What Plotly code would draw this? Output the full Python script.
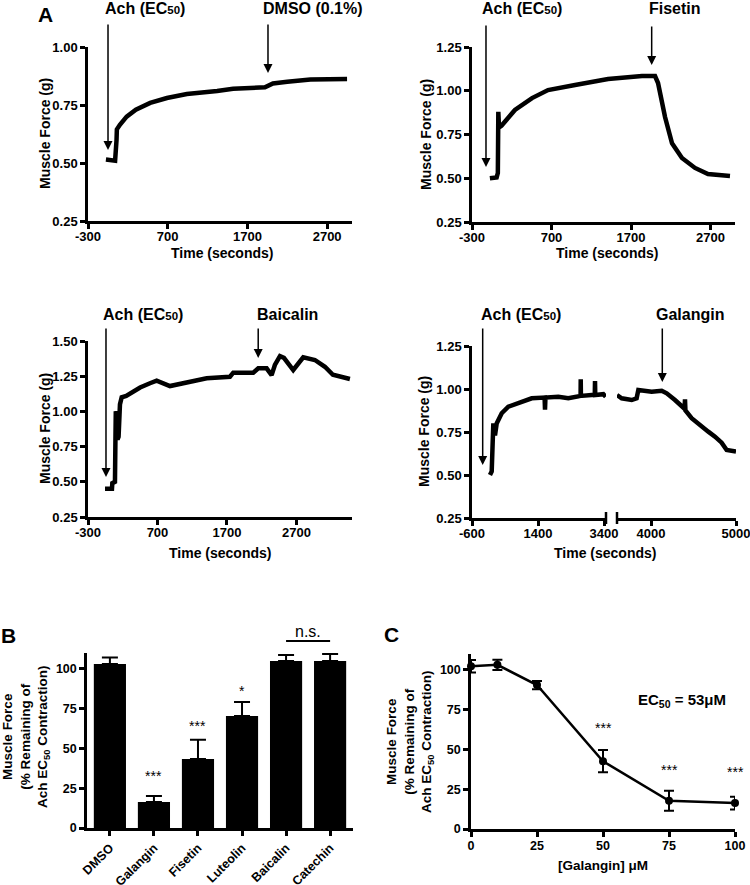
import plotly.graph_objects as go

W, H = 750, 885
FONT = "Liberation Sans"

# ---------------- Panel A data (time in s, force in g) ----------------
a1_time = [-75, 40, 58, 62, 100, 185, 300, 480, 690, 940, 1320, 1520, 1920, 2020, 2200, 2490, 2950]
a1_force = [0.515, 0.51, 0.60, 0.645, 0.665, 0.70, 0.73, 0.759, 0.78, 0.797, 0.81, 0.82, 0.826, 0.843, 0.85, 0.86, 0.862]

a2_time = [-75, 10, 25, 31, 40, 70, 240, 455, 656, 996, 1411, 1838, 2002, 2040, 2128, 2216, 2341, 2505, 2668, 2945]
a2_force = [0.50, 0.505, 0.53, 0.88, 0.79, 0.80, 0.89, 0.958, 1.004, 1.033, 1.067, 1.084, 1.084, 1.044, 0.85, 0.70, 0.616, 0.559, 0.524, 0.513]

a3_time = [-55, 45, 50, 88, 95, 100, 112, 125, 140, 160, 185, 250, 347, 450, 592, 688, 880, 1120, 1408, 1743, 1791,
           2079, 2151, 2271, 2343, 2390, 2463, 2520, 2654, 2798, 2966, 3110, 3225, 3470]
a3_force = [0.45, 0.45, 0.49, 0.50, 0.80, 1.00, 0.98, 0.80, 0.82, 1.05, 1.10, 1.11, 1.14, 1.17, 1.20, 1.218, 1.18, 1.204, 1.235, 1.246, 1.275,
            1.275, 1.306, 1.306, 1.258, 1.33, 1.393, 1.38, 1.294, 1.384, 1.365, 1.317, 1.26, 1.23]

a4a_time = [-55, -3, 46, 60, 97, 148, 300, 500, 803, 1209, 1600, 1612, 1625, 2015, 2318, 2690, 2694, 2700, 3027, 3120, 3127, 3135, 3379, 3451]
a4a_force = [0.50, 0.52, 0.80, 0.78, 0.73, 0.80, 0.859, 0.897, 0.917, 0.946, 0.95, 0.88, 0.95, 0.955, 0.946, 0.96, 1.056, 0.96, 0.965, 0.965, 1.046, 0.965, 0.97, 0.955]

a4b_time = [3600, 3655, 3773, 3831, 3851, 4008, 4126, 4185, 4282, 4395, 4400, 4405, 4478, 4596, 4674, 4753, 4831, 4890, 5000]
a4b_force = [0.965, 0.946, 0.936, 0.946, 0.994, 0.984, 0.99, 0.975, 0.936, 0.885, 0.94, 0.875, 0.83, 0.78, 0.752, 0.723, 0.688, 0.645, 0.636]

# arrows: (time, force at tip, length px)
a1_arrows = [(-49, 0.556, 127), (1958, 0.888, 50)]
a2_arrows = [(-124, 0.564, 143), (1960, 1.147, 40)]
a3_arrows = [(-41, 0.534, 150), (2150, 1.379, 31)]
a4_arrow_ach = (-276, 0.558, 138)
a4_arrow_gal = (4133, 1.041, 55)

a_time_ticks = [-300, 700, 1700, 2700]
a4_ticks_left = [-600, 1400, 3400]
a4_ticks_right = [4000, 5000]

# ---------------- Panel B data ----------------
b_cats = ["DMSO", "Galangin", "Fisetin", "Luteolin", "Baicalin", "Catechin"]
b_vals = [103.1, 16.4, 43.4, 70.4, 105.0, 105.0]
b_err = [4.0, 3.7, 12.0, 8.8, 3.8, 4.4]
b_star_cats = ["Galangin", "Fisetin", "Luteolin"]
b_star_text = ["***", "***", "*"]
b_star_y = [33, 64, 86]
b_ns_level = 117.6
pct_max = 110
pct_ticks = [0, 25, 50, 75, 100]

# ---------------- Panel C data ----------------
c_conc = [0, 10, 25, 50, 75, 100]
c_vals = [102.3, 103.2, 90.5, 42.6, 17.7, 16.3]
c_err = [4.0, 3.2, 2.6, 7.0, 6.3, 4.0]
c_star_x = [50, 75, 100]
c_star_y = [63.5, 37, 36]
c_ticks = [0, 25, 50, 75, 100]


def X(p):
    return p / W


def Y(p):
    return 1 - p / H


def ax_style(size=13, **kw):
    d = dict(showline=True, linecolor="black", linewidth=2.5, ticks="outside", ticklen=5,
             tickwidth=2.5, tickcolor="black", showgrid=False, zeroline=False, mirror=False,
             automargin=False, ticklabeloverflow="allow",
             tickfont=dict(family=FONT, size=size, color="black", weight="bold"))
    d.update(kw)
    return d


def tv(vals):
    return dict(tickvals=vals, ticktext=[str(v) for v in vals])


def tvf(vals):
    return dict(tickvals=vals, ticktext=["%.2f" % v for v in vals])


fig = go.Figure()
line = dict(color="black", width=4.5)
fig.add_trace(go.Scatter(x=a1_time, y=a1_force, mode="lines", line=line, xaxis="x", yaxis="y"))
fig.add_trace(go.Scatter(x=a2_time, y=a2_force, mode="lines", line=line, xaxis="x2", yaxis="y2"))
fig.add_trace(go.Scatter(x=a3_time, y=a3_force, mode="lines", line=line, xaxis="x3", yaxis="y3"))
fig.add_trace(go.Scatter(x=a4a_time, y=a4a_force, mode="lines", line=line, xaxis="x4", yaxis="y4"))
fig.add_trace(go.Scatter(x=a4b_time, y=a4b_force, mode="lines", line=line, xaxis="x5", yaxis="y4"))

fig.add_trace(go.Bar(x=b_cats, y=b_vals, width=0.73, marker=dict(color="black", line=dict(width=0)),
                     error_y=dict(type="data", array=b_err, arrayminus=[0] * len(b_err), symmetric=False,
                                  color="black", thickness=2, width=8),
                     xaxis="x6", yaxis="y6"))

fig.add_trace(go.Scatter(x=c_conc, y=c_vals, mode="lines+markers", cliponaxis=False,
                         line=dict(color="black", width=2.5),
                         marker=dict(color="black", size=8),
                         error_y=dict(type="data", array=c_err, color="black", thickness=2, width=5),
                         xaxis="x7", yaxis="y7"))

ta = [0.25, 0.5, 0.75, 1.0, 1.25, 1.5]
XS = dict(ticklabelstandoff=-3)
layout = dict(
    width=W, height=H, autosize=False, showlegend=False,
    margin=dict(l=0, r=0, t=0, b=0, pad=0),
    paper_bgcolor="white", plot_bgcolor="white",
    font=dict(family=FONT, color="black"),
    xaxis=ax_style(domain=[X(88), X(352)], anchor="y", range=[-300, 3012], **tv(a_time_ticks), **XS),
    yaxis=ax_style(domain=[Y(221), Y(47)], anchor="x", range=[0.25, 1.0], **tvf(ta[:4])),
    xaxis2=ax_style(domain=[X(472), X(735)], anchor="y2", range=[-300, 3008], **tv(a_time_ticks), **XS),
    yaxis2=ax_style(domain=[Y(222), Y(47)], anchor="x2", range=[0.25, 1.25], **tvf(ta[:5])),
    xaxis3=ax_style(domain=[X(88), X(352)], anchor="y3", range=[-300, 3500], **tv(a_time_ticks), **XS),
    yaxis3=ax_style(domain=[Y(517), Y(341)], anchor="x3", range=[0.25, 1.5], **tvf(ta)),
    xaxis4=ax_style(domain=[X(472), X(606)], anchor="y4", range=[-600, 3460], **tv(a4_ticks_left), **XS),
    xaxis5=ax_style(domain=[X(617), X(736)], anchor="y4", range=[3600, 5000], **tv(a4_ticks_right), **XS),
    yaxis4=ax_style(domain=[Y(518), Y(346)], anchor="x4", range=[0.25, 1.25], **tvf(ta[:5])),
    xaxis6=ax_style(size=12.5, domain=[X(87), X(353)], anchor="y6", type="category",
                    range=[-0.52, len(b_cats) - 0.48], tickangle=-45),
    yaxis6=ax_style(size=12.5, domain=[Y(828), Y(653)], anchor="x6", range=[0, pct_max], **tv(pct_ticks)),
    xaxis7=ax_style(size=12.5, domain=[X(471), X(735)], anchor="y7", range=[0, 100], **tv(c_ticks),
                    ticklabelstandoff=-2),
    yaxis7=ax_style(size=12.5, domain=[Y(829), Y(654)], anchor="x7", range=[0, pct_max], **tv(pct_ticks)),
)
fig.update_layout(**layout)

ann = []


def txt(text, px, py, size, bold=True, angle=0):
    ann.append(dict(text=text, x=X(px), y=Y(py), xref="paper", yref="paper", showarrow=False,
                    xanchor="center", yanchor="middle", textangle=angle,
                    font=dict(family=FONT, size=size, color="black", weight="bold" if bold else "normal")))


EC = "Ach (EC<span style='font-size:11.5px'>50</span>)"
# panel letters
txt("A", 45, 15, 21)
txt("B", 8, 635, 21)
txt("C", 392, 634, 21)
# treatment labels
txt(EC, 145, 8, 16)
txt("DMSO (0.1%)", 313, 8, 16)
txt(EC, 522, 8, 16)
txt("Fisetin", 675, 8, 16)
txt(EC, 143, 314, 16)
txt("Baicalin", 287, 314, 16)
txt(EC, 521, 314, 16)
txt("Galangin", 690, 314, 16)
# axis titles
for px, py in [(45, 134), (426, 134), (45, 429), (424, 432)]:
    txt("Muscle Force (g)", px, py, 14, angle=-90)
for px, py in [(222, 253), (607, 253), (220, 553), (605, 553)]:
    txt("Time (seconds)", px, py, 14)
ytitle = "Muscle Force<br>(% Remaining of<br>Ach EC<sub>50</sub> Contraction)"
txt(ytitle, 26, 737, 13.5, angle=-90)
txt(ytitle, 410, 742, 13.5, angle=-90)
txt("[Galangin] μM", 603, 865, 13.5)


def arrows(lst, xr, yr):
    for t, v, ln in lst:
        ann.append(dict(x=t, y=v, xref=xr, yref=yr, ax=0, ay=-ln, text="", showarrow=True,
                        arrowhead=2, arrowsize=1.2, arrowwidth=1.5, arrowcolor="black", standoff=0))


arrows(a1_arrows, "x", "y")
arrows(a2_arrows, "x2", "y2")
arrows(a3_arrows, "x3", "y3")
arrows([a4_arrow_ach], "x4", "y4")
arrows([a4_arrow_gal], "x5", "y4")

# stars
for c, s, yv in zip(b_star_cats, b_star_text, b_star_y):
    ann.append(dict(x=c, y=yv, xref="x6", yref="y6", text=s, showarrow=False,
                    font=dict(family=FONT, size=14, color="black")))
ann.append(dict(x=(b_cats.index("Baicalin") + b_cats.index("Catechin")) / 2, y=b_ns_level / pct_max,
                xref="x6", yref="y6 domain", yanchor="bottom", yshift=-1,
                text="n.s.", showarrow=False, font=dict(family=FONT, size=16, color="black")))
for xv, yv in zip(c_star_x, c_star_y):
    ann.append(dict(x=xv, y=yv, xref="x7", yref="y7", text="***", showarrow=False,
                    font=dict(family=FONT, size=14, color="black")))
ann.append(dict(x=80, y=81, xref="x7", yref="y7", text="EC<sub>50</sub> = 53μM", showarrow=False,
                font=dict(family=FONT, size=15, color="black", weight="bold")))

fig.update_layout(annotations=ann)

shapes = [
    dict(type="line", xref="x6", yref="y6 domain", x0=b_cats.index("Baicalin"), x1=b_cats.index("Catechin"),
         y0=b_ns_level / pct_max, y1=b_ns_level / pct_max, line=dict(color="black", width=2)),
    dict(type="line", xref="x4 domain", yref="y4 domain", x0=1, x1=1, y0=-0.035, y1=0.035,
         line=dict(color="black", width=2.5)),
    dict(type="line", xref="x5 domain", yref="y4 domain", x0=0, x1=0, y0=-0.035, y1=0.035,
         line=dict(color="black", width=2.5)),
]
fig.update_layout(shapes=shapes)

fig.write_html("out.html", config={"displayModeBar": False},
               post_script="document.body.style.margin='0';document.body.style.padding='0';"
                           "document.body.style.overflow='hidden';")
